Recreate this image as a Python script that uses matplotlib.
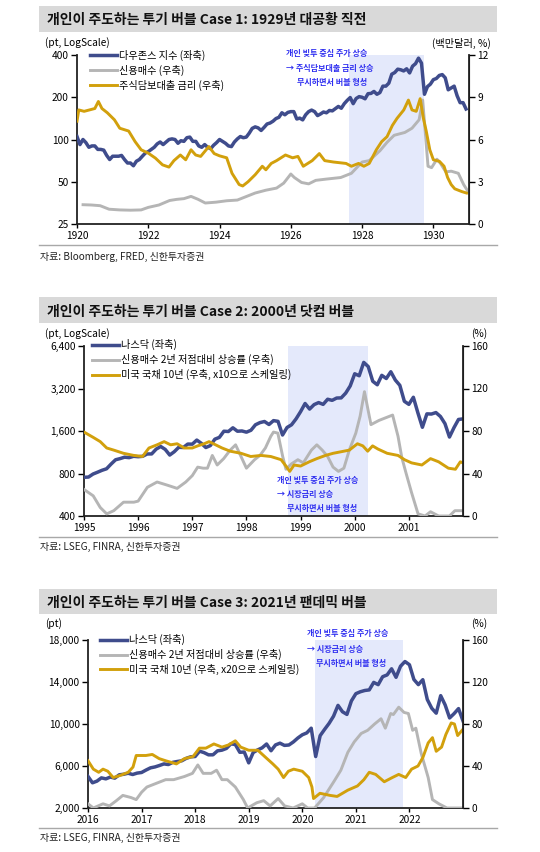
import numpy as np
import matplotlib
matplotlib.use("Agg")
import matplotlib.pyplot as plt
from matplotlib.patches import Rectangle
from matplotlib.lines import Line2D
from matplotlib.ticker import FixedLocator, FuncFormatter, NullLocator

plt.rcParams['font.family'] = ['Noto Sans CJK KR', 'DejaVu Sans']

# ---------------- DATA ----------------
# Case 1 : 1929
dow_start = 1920.0
dow_vals = [105, 92, 100, 95, 88, 90, 90, 85, 85, 84, 77, 72,
            76, 76, 76, 77, 72, 68, 68, 65, 70, 72, 76, 80,
            82, 85, 88, 93, 96, 92, 96, 100, 101, 100, 94, 98,
            97, 103, 104, 97, 97, 90, 88, 92, 88, 86, 91, 95,
            100, 97, 94, 90, 89, 96, 101, 105, 103, 104, 111, 120,
            123, 121, 116, 122, 129, 131, 135, 141, 144, 155, 150, 156,
            158, 158, 140, 142, 138, 150, 158, 162, 158, 148, 152, 157,
            155, 161, 160, 166, 172, 167, 180, 190, 199, 180, 196, 202,
            200, 195, 212, 213, 220, 210, 216, 240, 240, 252, 292, 300,
            317, 314, 308, 319, 298, 333, 347, 380, 350, 210, 238, 248,
            267, 272, 286, 290, 275, 226, 233, 240, 205, 183, 183, 165]
margin1_x = [1920.17, 1920.4, 1920.65, 1920.9, 1921.2, 1921.5, 1921.8, 1922.0, 1922.3,
             1922.6, 1922.8, 1923.0, 1923.2, 1923.4, 1923.6, 1923.9, 1924.2, 1924.5,
             1924.8, 1925.0, 1925.3, 1925.6, 1925.8, 1926.0, 1926.1, 1926.3, 1926.5,
             1926.7, 1927.0, 1927.4, 1927.7, 1928.0, 1928.2, 1928.5, 1928.7, 1928.9,
             1929.2, 1929.4, 1929.6, 1929.7, 1929.85, 1929.95, 1930.1, 1930.2, 1930.35,
             1930.5, 1930.7, 1930.85, 1931.0]
margin1_v = [1.37, 1.35, 1.3, 1.05, 1.0, 0.98, 1.0, 1.18, 1.35,
             1.67, 1.75, 1.8, 1.96, 1.75, 1.49, 1.55, 1.65, 1.7,
             2.0, 2.2, 2.4, 2.55, 2.9, 3.55, 3.3, 2.95, 2.85,
             3.1, 3.19, 3.3, 3.6, 4.4, 4.5, 5.2, 5.8, 6.3,
             6.5, 6.8, 7.4, 8.8, 4.1, 4.0, 4.6, 4.3, 3.7,
             3.75, 3.6, 2.8, 2.2]
rate1_x = [1920.0, 1920.05, 1920.2, 1920.35, 1920.5, 1920.6, 1920.7, 1920.85, 1921.05,
           1921.2, 1921.45, 1921.63, 1921.8, 1922.0, 1922.2, 1922.4, 1922.58, 1922.72,
           1922.9, 1923.05, 1923.2, 1923.33, 1923.47, 1923.7, 1923.85, 1924.0, 1924.2,
           1924.35, 1924.55, 1924.65, 1924.8, 1925.0, 1925.2, 1925.3, 1925.45, 1925.6,
           1925.85, 1926.05, 1926.2, 1926.35, 1926.6, 1926.8, 1926.95, 1927.2, 1927.55,
           1927.7, 1927.9, 1928.05, 1928.2, 1928.4, 1928.55, 1928.7, 1928.85, 1928.98,
           1929.17, 1929.3, 1929.4, 1929.52, 1929.63, 1929.72, 1929.8, 1929.9, 1930.0,
           1930.17, 1930.3, 1930.4, 1930.5, 1930.6, 1930.8, 1930.93]
rate1_v = [7.3, 8.1, 8.0, 8.1, 8.2, 8.7, 8.2, 7.9, 7.4,
           6.8, 6.6, 5.85, 5.27, 5.03, 4.68, 4.2, 4.04, 4.5,
           4.9, 4.56, 5.27, 4.9, 4.8, 5.5, 5.0, 4.84, 4.7,
           3.6, 2.8, 2.7, 3.0, 3.5, 4.1, 3.85, 4.3, 4.5,
           4.9, 4.7, 4.8, 4.1, 4.5, 5.0, 4.5, 4.4, 4.3,
           4.1, 4.3, 4.1, 4.3, 5.27, 5.85, 6.2, 7.0, 7.5,
           8.1, 8.8, 8.1, 8.0, 8.9, 7.5, 6.6, 5.27, 4.56,
           4.45, 4.1, 3.3, 2.8, 2.5, 2.3, 2.2]
shade1 = (1927.64, 1929.75)

# Case 2 : 2000
nas2_start = 1995.0
nas2_vals = [752, 755, 793, 817, 843, 864, 933, 1001, 1020, 1044, 1036, 1059,
             1052, 1059, 1100, 1101, 1191, 1243, 1185, 1081, 1141, 1227, 1222, 1293,
             1291, 1380, 1309, 1222, 1261, 1400, 1442, 1594, 1587, 1686, 1594, 1601,
             1570, 1619, 1771, 1835, 1868, 1779, 1895, 1873, 1499, 1694, 1771, 1950,
             2193, 2506, 2288, 2461, 2543, 2470, 2686, 2638, 2739, 2746, 2967, 3336,
             4069, 3940, 4900, 4573, 3600, 3401, 3966, 3767, 4206, 3673, 3370, 2598,
             2471, 2773, 2152, 1700, 2116, 2110, 2161, 2027, 1805, 1450, 1690, 1931,
             1950]
margin2_x = [1995.0, 1995.17, 1995.3, 1995.42, 1995.55, 1995.73, 1995.92, 1996.0, 1996.17,
             1996.35, 1996.54, 1996.72, 1996.88, 1997.0, 1997.1, 1997.2, 1997.28, 1997.37,
             1997.46, 1997.58, 1997.7, 1997.8, 1997.9, 1998.0, 1998.15, 1998.25, 1998.35,
             1998.45, 1998.5, 1998.58, 1998.67, 1998.73, 1998.83, 1998.95, 1999.05, 1999.2,
             1999.3, 1999.4, 1999.5, 1999.6, 1999.7, 1999.8, 1999.9, 2000.02, 2000.1,
             2000.18, 2000.3, 2000.45, 2000.55, 2000.7, 2000.8, 2000.87, 2000.95, 2001.05,
             2001.17, 2001.3, 2001.4, 2001.55, 2001.75, 2001.85, 2002.0]
margin2_v = [25, 19, 8, 2, 5, 13, 13, 14, 27,
             32, 29, 26, 32, 38, 46, 45, 45, 57,
             48, 54, 62, 67, 56, 45, 53, 57, 64,
             75, 79, 78, 56, 44, 49, 53, 50, 62,
             67, 62, 56, 46, 42, 45, 62, 78, 94,
             117, 86, 90, 92, 95, 75, 55, 40, 22,
             2, 0, 4, 0, 0, 5, 5]
yield2_x = [1995.0, 1995.17, 1995.3, 1995.42, 1995.55, 1995.73, 1995.92, 1996.08, 1996.2,
            1996.35, 1996.48, 1996.6, 1996.72, 1996.85, 1997.0, 1997.1, 1997.22, 1997.31,
            1997.43, 1997.55, 1997.7, 1997.9, 1998.08, 1998.27, 1998.45, 1998.64, 1998.73,
            1998.8, 1998.88, 1999.0, 1999.16, 1999.3, 1999.46, 1999.6, 1999.8, 1999.9,
            2000.05, 2000.15, 2000.24, 2000.33, 2000.43, 2000.6, 2000.8, 2000.92, 2001.05,
            2001.24, 2001.4, 2001.55, 2001.73, 2001.86, 2001.95, 2002.0]
yield2_v = [79, 74, 70, 64, 62, 59, 57, 56, 64,
            67, 70, 67, 68, 64, 64, 66, 68, 70,
            67, 64, 61, 59, 56, 57, 56, 53, 47,
            42, 48, 47, 51, 54, 57, 59, 61, 62,
            68, 66, 61, 66, 63, 59, 57, 53, 50,
            48, 54, 51, 45, 44, 51, 50]
shade2 = (1998.77, 2000.25)

# Case 3 : 2021
nas3_start = 2016.0
nas3_vals = [5007, 4400, 4558, 4870, 4775, 4948, 4843, 5162, 5213, 5312, 5189, 5323,
             5383, 5615, 5825, 5912, 6048, 6199, 6140, 6348, 6429, 6496, 6728, 6874,
             6903, 7411, 7273, 7063, 7066, 7442, 7510, 7672, 8109, 8046, 7305, 7331,
             6300, 7282, 7533, 7729, 8095, 7453, 8006, 8175, 7963, 7999, 8292, 8665,
             8972, 9151, 9600, 6900, 8890, 9490, 10059, 10745, 11775, 11168, 10912, 12198,
             12888, 13070, 13192, 13247, 13962, 13748, 14504, 14673, 15259, 14448, 15498, 15950,
             15645, 14240, 13751, 14221, 12335, 11500, 11029, 12700, 11816, 10576, 10988, 11468,
             10300]
margin3_x = [2016.0, 2016.1, 2016.28, 2016.4, 2016.53, 2016.65, 2016.8, 2016.9, 2017.0,
             2017.1, 2017.25, 2017.45, 2017.6, 2017.8, 2017.95, 2018.05, 2018.15, 2018.3,
             2018.4, 2018.5, 2018.6, 2018.75, 2018.9, 2018.98, 2019.15, 2019.28, 2019.4,
             2019.55, 2019.67, 2019.83, 2020.0, 2020.1, 2020.23, 2020.4, 2020.6, 2020.72,
             2020.85, 2020.97, 2021.1, 2021.22, 2021.35, 2021.47, 2021.55, 2021.65, 2021.7,
             2021.8, 2021.9, 2021.98, 2022.06, 2022.12, 2022.22, 2022.35, 2022.43, 2022.55,
             2022.7, 2023.0]
margin3_v = [4, 0, 4, 2, 7, 12, 10, 8, 15,
             20, 23, 27, 27, 30, 33, 41, 33, 33,
             36, 27, 27, 20, 8, 0, 5, 7, 2,
             9, 2, 0, 4, 0, 0, 10, 26, 36,
             53, 63, 71, 74, 80, 85, 76, 90, 89,
             96, 91, 90, 74, 76, 52, 29, 8, 4,
             0, 0]
yield3_x = [2016.0, 2016.1, 2016.2, 2016.28, 2016.37, 2016.47, 2016.6, 2016.75, 2016.84,
            2016.9, 2017.08, 2017.2, 2017.33, 2017.45, 2017.65, 2017.8, 2017.96, 2018.08,
            2018.2, 2018.35, 2018.5, 2018.62, 2018.75, 2018.85, 2019.0, 2019.17, 2019.32,
            2019.45, 2019.55, 2019.65, 2019.74, 2019.84, 2020.0, 2020.12, 2020.18, 2020.21,
            2020.33, 2020.52, 2020.65, 2020.85, 2021.03, 2021.15, 2021.25, 2021.37, 2021.53,
            2021.68, 2021.8, 2021.93, 2022.04, 2022.16, 2022.25, 2022.35, 2022.43, 2022.5,
            2022.6, 2022.68, 2022.78, 2022.84, 2022.9, 2023.0]
yield3_v = [45, 37, 34, 37, 35, 29, 31, 34, 39,
            50, 50, 51, 47, 45, 42, 47, 49, 57,
            57, 61, 58, 60, 64, 58, 55, 55, 48,
            42, 37, 29, 35, 37, 35, 29, 20, 9,
            14, 12, 11, 17, 21, 27, 34, 32, 25,
            29, 32, 29, 37, 40, 48, 62, 67, 54,
            58, 70, 81, 80, 69, 75]
shade3 = (2020.23, 2021.88)

# ---------------- STYLE ----------------
NAVY = '#3f4c8c'
GRAY = '#b5b5b5'
GOLD = '#d2a00c'
SHADE = '#e4e9fb'
ANN = '#3030f0'
W, H = 540, 852

fig = plt.figure(figsize=(5.4, 8.52), dpi=100)


def fx(px):
    return px / W


def fy(py):
    return 1 - py / H


def add_axes(x0, x1, y0, y1):
    return fig.add_axes([fx(x0), fy(y1), fx(x1) - fx(x0), fy(y0) - fy(y1)])


def header(title, ybar0, ybar1, ytxt):
    fig.patches.append(Rectangle((fx(39), fy(ybar1)), fx(497) - fx(39), fy(ybar0) - fy(ybar1),
                                 transform=fig.transFigure, facecolor='#d9d9d9', edgecolor='none'))
    fig.text(fx(47), fy(ytxt), title, fontsize=10, fontweight='bold', va='center', ha='left', color='#111111')


def footer(src, yline, ytxt):
    fig.add_artist(Line2D([fx(39), fx(497)], [fy(yline), fy(yline)], color='#a8a8a8', lw=1.0,
                          transform=fig.transFigure))
    fig.text(fx(40), fy(ytxt), src, fontsize=7.2, va='center', ha='left', color='#222222')


def style_axes(ax, ax2):
    ax.spines['top'].set_visible(False)
    ax2.spines['top'].set_visible(False)
    for s in ['left', 'bottom']:
        ax.spines[s].set_linewidth(1.3)
        ax.spines[s].set_color('#222222')
    ax2.spines['right'].set_linewidth(1.3)
    ax2.spines['right'].set_color('#222222')
    ax2.spines['left'].set_visible(False)
    ax2.spines['bottom'].set_visible(False)
    ax.tick_params(axis='y', direction='out', length=4, width=1, labelsize=7.3, pad=2)
    ax.tick_params(axis='x', direction='out', length=3, width=1, labelsize=7.3, pad=2)
    ax2.tick_params(axis='y', direction='out', length=4, width=1, labelsize=7.3, pad=2)
    ax.yaxis.set_minor_locator(NullLocator())
    ax.xaxis.set_minor_locator(NullLocator())


def annotate(ax, xs, ys, lines):
    for xa, ya, t in zip(xs, ys, lines):
        ax.text(xa, ya, t, transform=ax.transAxes, fontsize=5.8, fontweight='bold', color=ANN,
                ha='left', va='center', clip_on=False, zorder=10)


def legend(ax2, handles, labels, x, y):
    ax2.legend(handles, labels, loc='upper left', bbox_to_anchor=(x, y), frameon=False,
               fontsize=7.3, handlelength=2.7, handletextpad=0.15, labelspacing=0.38,
               borderpad=0, borderaxespad=0)


comma = FuncFormatter(lambda v, p: f'{int(v):,}')

# ---------------- PANEL 1 ----------------
header('개인이 주도하는 투기 버블 Case 1: 1929년 대공황 직전', 6, 32, 20)
ax = add_axes(77, 469, 55, 224)
ax2 = ax.twinx()
dow_x = dow_start + np.arange(len(dow_vals)) / 12
ax.axvspan(*shade1, color=SHADE, lw=0, zorder=0)
l1, = ax.plot(dow_x, dow_vals, color=NAVY, lw=2.5, zorder=3)
l2, = ax2.plot(margin1_x, margin1_v, color=GRAY, lw=2.1)
l3, = ax2.plot(rate1_x, rate1_v, color=GOLD, lw=2.1)
ax.set_yscale('log')
ax.set_ylim(25, 400)
ax.yaxis.set_major_locator(FixedLocator([25, 50, 100, 200, 400]))
ax.yaxis.set_major_formatter(FuncFormatter(lambda v, p: f'{int(v)}'))
ax.set_xlim(1920, 1931)
ax.set_xticks([1920, 1922, 1924, 1926, 1928, 1930])
ax2.set_ylim(0, 12)
ax2.set_yticks([0, 3, 6, 9, 12])
style_axes(ax, ax2)
legend(ax2, [l1, l2, l3], ['다우존스 지수 (좌축)', '신용매수 (우축)', '주식담보대출 금리 (우축)'], 0.033, 1.03)
annotate(ax2, [0.533, 0.533, 0.561], [1.006, 0.923, 0.840],
         ['개인 빚투 중심 주가 상승', '→ 주식담보대출 금리 상승', '무시하면서 버블 형성'])
fig.text(fx(45), fy(43), '(pt, LogScale)', fontsize=7.3, va='center', ha='left')
fig.text(fx(491), fy(43), '(백만달러, %)', fontsize=7.3, va='center', ha='right')
footer('자료: Bloomberg, FRED, 신한투자증권', 245, 257)

# ---------------- PANEL 2 ----------------
header('개인이 주도하는 투기 버블 Case 2: 2000년 닷컴 버블', 297, 323, 312)
ax = add_axes(84, 463, 346, 516)
ax2 = ax.twinx()
nas2_x = nas2_start + np.arange(len(nas2_vals)) / 12
ax.axvspan(*shade2, color=SHADE, lw=0, zorder=0)
l1, = ax.plot(nas2_x, nas2_vals, color=NAVY, lw=2.5, zorder=3)
l2, = ax2.plot(margin2_x, margin2_v, color=GRAY, lw=2.1)
l3, = ax2.plot(yield2_x, yield2_v, color=GOLD, lw=2.1)
ax.set_yscale('log')
ax.set_ylim(400, 6400)
ax.yaxis.set_major_locator(FixedLocator([400, 800, 1600, 3200, 6400]))
ax.yaxis.set_major_formatter(comma)
ax.set_xlim(1995, 2002)
ax.set_xticks(list(range(1995, 2002)))
ax2.set_ylim(0, 160)
ax2.set_yticks([0, 40, 80, 120, 160])
style_axes(ax, ax2)
legend(ax2, [l1, l2, l3], ['나스닥 (좌축)', '신용매수 2년 저점대비 상승률 (우축)',
                           '미국 국채 10년 (우축, x10으로 스케일링)'], 0.021, 1.04)
annotate(ax2, [0.509, 0.509, 0.536], [0.206, 0.124, 0.047],
         ['개인 빚투 중심 주가 상승', '→ 시장금리 상승', '무시하면서 버블 형성'])
fig.text(fx(45), fy(334), '(pt, LogScale)', fontsize=7.3, va='center', ha='left')
fig.text(fx(487), fy(334), '(%)', fontsize=7.3, va='center', ha='right')
footer('자료: LSEG, FINRA, 신한투자증권', 537, 547)

# ---------------- PANEL 3 ----------------
header('개인이 주도하는 투기 버블 Case 3: 2021년 팬데믹 버블', 589, 614, 603)
ax = add_axes(88, 463, 640, 808)
ax2 = ax.twinx()
nas3_x = nas3_start + np.arange(len(nas3_vals)) / 12
ax.axvspan(*shade3, color=SHADE, lw=0, zorder=0)
l1, = ax.plot(nas3_x, nas3_vals, color=NAVY, lw=2.5, zorder=3)
l2, = ax2.plot(margin3_x, margin3_v, color=GRAY, lw=2.1)
l3, = ax2.plot(yield3_x, yield3_v, color=GOLD, lw=2.1)
ax.set_ylim(2000, 18000)
ax.set_yticks([2000, 6000, 10000, 14000, 18000])
ax.yaxis.set_major_formatter(comma)
ax.set_xlim(2016, 2023)
ax.set_xticks(list(range(2016, 2023)))
ax2.set_ylim(0, 160)
ax2.set_yticks([0, 40, 80, 120, 160])
style_axes(ax, ax2)
legend(ax2, [l1, l2, l3], ['나스닥 (좌축)', '신용매수 2년 저점대비 상승률 (우축)',
                           '미국 국채 10년 (우축, x20으로 스케일링)'], 0.032, 1.035)
annotate(ax2, [0.584, 0.584, 0.608], [1.036, 0.946, 0.863],
         ['개인 빚투 중심 주가 상승', '→ 시장금리 상승', '무시하면서 버블 형성'])
fig.text(fx(45), fy(624), '(pt)', fontsize=7.3, va='center', ha='left')
fig.text(fx(487), fy(624), '(%)', fontsize=7.3, va='center', ha='right')
footer('자료: LSEG, FINRA, 신한투자증권', 828, 838)

fig.savefig('out.png', dpi=100)
